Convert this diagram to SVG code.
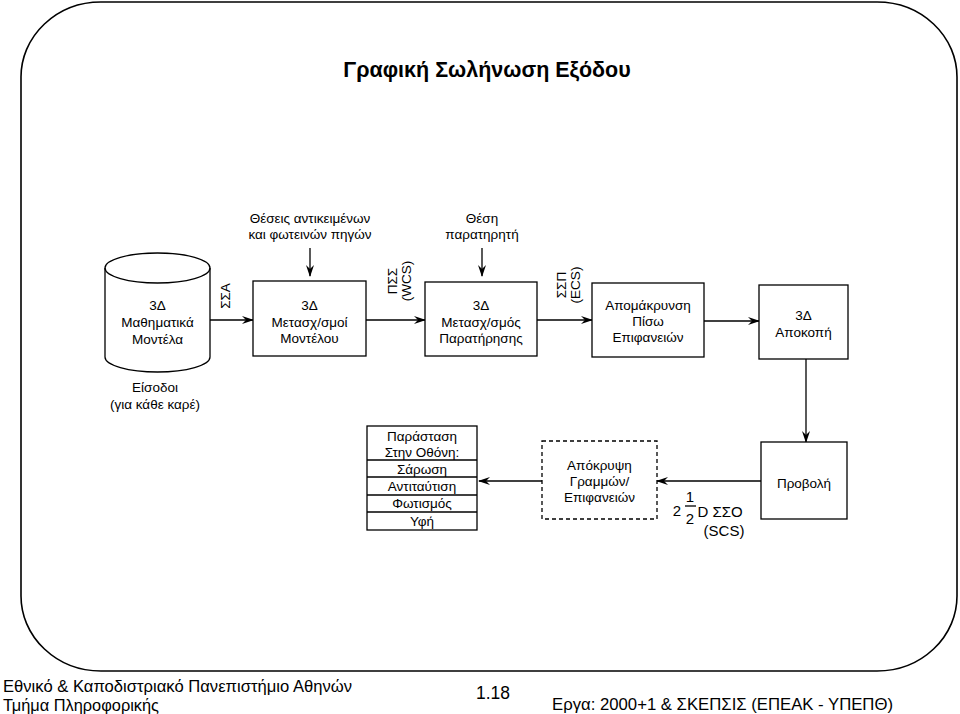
<svg xmlns="http://www.w3.org/2000/svg" width="960" height="714" viewBox="0 0 960 714">
<defs>
<marker id="arr" viewBox="0 0 12 8" refX="11" refY="4" markerWidth="12" markerHeight="8" markerUnits="userSpaceOnUse" orient="auto">
<path d="M0,0 L12,4 L0,8 L4,4 z" fill="#000"/>
</marker>
<style>
text{font-family:"Liberation Sans",Arial,sans-serif;font-size:13.5px;fill:#000;text-anchor:middle}
.box{fill:#fff;stroke:#000;stroke-width:1.3}
.dash{fill:#fff;stroke:#000;stroke-width:1.3;stroke-dasharray:4 3}
.ln{stroke:#000;stroke-width:1.3;fill:none}
.con{stroke:#000;stroke-width:1.3;fill:none;marker-end:url(#arr)}
.title{font-size:21.5px;font-weight:bold}
.foot{font-size:16px;text-anchor:start}
</style>
</defs>
<rect x="21" y="2" width="936" height="669" rx="80" ry="75" fill="none" stroke="#000" stroke-width="1.6"/>
<text class="title" x="487" y="77">Γραφική Σωλήνωση Εξόδου</text>

<g id="connectors">
<line class="con" x1="210" y1="320" x2="253" y2="320"/>
<line class="con" x1="366" y1="320" x2="425" y2="320"/>
<line class="con" x1="537" y1="320" x2="592" y2="320"/>
<line class="con" x1="704" y1="321" x2="759" y2="321"/>
<line class="con" x1="310" y1="248" x2="310" y2="276"/>
<line class="con" x1="482" y1="248" x2="482" y2="276"/>
<line class="con" x1="806" y1="359" x2="806" y2="442"/>
<line class="con" x1="761" y1="481" x2="657" y2="481"/>
<line class="con" x1="542" y1="481" x2="479" y2="481"/>
</g>

<g id="label-ssa"><text x="230" y="296" transform="rotate(-90 230 296)">ΣΣΑ</text></g>
<g id="label-wcs">
<text x="397" y="281" transform="rotate(-90 397 281)">ΠΣΣ</text>
<text x="411" y="281" transform="rotate(-90 411 281)">(WCS)</text>
</g>
<g id="label-ecs">
<text x="566" y="285" transform="rotate(-90 566 285)">ΣΣΠ</text>
<text x="580" y="285" transform="rotate(-90 580 285)">(ECS)</text>
</g>

<g id="input-objects">
<text x="310" y="223">Θέσεις αντικειμένων</text>
<text x="310" y="239">και φωτεινών πηγών</text>
</g>
<g id="input-viewer">
<text x="482" y="223">Θέση</text>
<text x="482" y="239">παρατηρητή</text>
</g>

<g id="node-models">
<path class="box" d="M105,268 A52.5,15 0 0 1 210,268 L210,357 A52.5,15 0 0 1 105,357 Z"/>
<path class="ln" d="M105,268 A52.5,15 0 0 0 210,268"/>
<text x="157.5" y="310">3Δ</text>
<text x="157.5" y="327">Μαθηματικά</text>
<text x="157.5" y="344">Μοντέλα</text>
</g>

<g id="node-model-transform">
<rect class="box" x="253" y="281" width="113" height="75"/>
<text x="309.5" y="310">3Δ</text>
<text x="309.5" y="327">Μετασχ/σμοί</text>
<text x="309.5" y="343">Μοντέλου</text>
</g>

<g id="node-view-transform">
<rect class="box" x="425" y="282" width="112" height="74"/>
<text x="481" y="310">3Δ</text>
<text x="481" y="327">Μετασχ/σμός</text>
<text x="481" y="343">Παρατήρησης</text>
</g>

<g id="node-backface">
<rect class="box" x="592" y="283" width="112" height="74"/>
<text x="648" y="310">Απομάκρυνση</text>
<text x="648" y="326">Πίσω</text>
<text x="648" y="342">Επιφανειών</text>
</g>

<g id="node-clip">
<rect class="box" x="759" y="285" width="89" height="74"/>
<text x="803.5" y="320">3Δ</text>
<text x="803.5" y="337">Αποκοπή</text>
</g>

<g id="inputs-note">
<text x="155" y="392">Είσοδοι</text>
<text x="155" y="409">(για κάθε καρέ)</text>
</g>

<g id="node-projection">
<rect class="box" x="761" y="442" width="86" height="77"/>
<text x="804" y="488">Προβολή</text>
</g>

<g id="node-hidden">
<rect class="dash" x="542" y="441" width="115" height="78"/>
<text x="599.5" y="470">Απόκρυψη</text>
<text x="599.5" y="486">Γραμμών/</text>
<text x="599.5" y="502">Επιφανειών</text>
</g>

<g id="label-scs">
<text x="677" y="516" style="font-size:15px">2</text>
<text x="690" y="502" style="font-size:15px">1</text>
<line class="ln" x1="685" y1="506" x2="696" y2="506"/>
<text x="690" y="524" style="font-size:15px">2</text>
<text x="720" y="517" style="font-size:15px">D ΣΣΟ</text>
<text x="724" y="536" style="font-size:15px">(SCS)</text>
</g>

<g id="node-display">
<rect class="box" x="367" y="426" width="110" height="104"/>
<line class="ln" x1="367" y1="460" x2="477" y2="460"/>
<line class="ln" x1="367" y1="477" x2="477" y2="477"/>
<line class="ln" x1="367" y1="495" x2="477" y2="495"/>
<line class="ln" x1="367" y1="512" x2="477" y2="512"/>
<text x="422" y="441">Παράσταση</text>
<text x="422" y="457">Στην Οθόνη:</text>
<text x="422" y="474">Σάρωση</text>
<text x="422" y="491">Αντιταύτιση</text>
<text x="422" y="508">Φωτισμός</text>
<text x="422" y="526">Υφή</text>
</g>

<g id="footer">
<text class="foot" x="3" y="692" textLength="349" lengthAdjust="spacingAndGlyphs">Εθνικό &amp; Καποδιστριακό Πανεπιστήμιο Αθηνών</text>
<text class="foot" x="3" y="711" textLength="156" lengthAdjust="spacingAndGlyphs">Τμήμα Πληροφορικής</text>
<text class="foot" x="476" y="699" style="font-size:18px" textLength="34" lengthAdjust="spacingAndGlyphs">1.18</text>
<text class="foot" x="552" y="710" textLength="341" lengthAdjust="spacingAndGlyphs">Εργα: 2000+1 &amp; ΣΚΕΠΣΙΣ (ΕΠΕΑΚ - ΥΠΕΠΘ)</text>
</g>
</svg>
